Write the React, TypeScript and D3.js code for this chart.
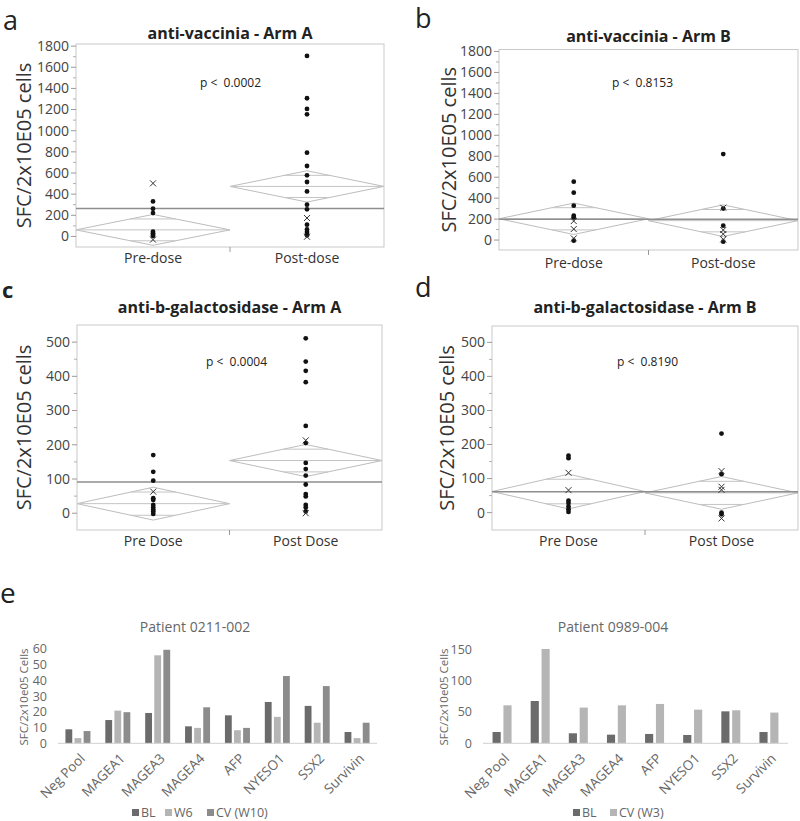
import React from "react";
import * as d3 from "d3";

const FONT = "'Open Sans', 'Segoe UI', sans-serif";

// ---------- Scatter panels (a-d) ----------
const doseGroupsAB = ["Pre-dose", "Post-dose"];
const doseGroupsCD = ["Pre Dose", "Post Dose"];

const aPreDots = [331, 262, 221, 45, 30, 15, 5];
const aPreCross = [502, -30];
const aPostDots = [1707, 1307, 1206, 1155, 792, 666, 578, 515, 426, 300, 256, 111, 66, 41, 22, 10];
const aPostCross = [174, -3];
const aMeans = [62, 473];
const aHalf = [146, 148];
const aGrand = 265;

const bPreDots = [557, 452, 328, 232, 217, -6];
const bPreCross = [181, 105, 16];
const bPostDots = [821, 300, 137, -16];
const bPostCross = [309, 96, 57, 6];
const bMeans = [203, 185];
const bHalf = [150, 151];
const bGrand = 198;

const cPreDots = [170, 121, 95, 44, 39, 24, 17, 10, 5, -2];
const cPreCross = [63];
const cPostDots = [511, 443, 416, 383, 255, 205, 147, 129, 110, 84, 56, 49, 24, 17, 5];
const cPostCross = [213, 0];
const cMeans = [28, 154];
const cHalf = [48, 47];
const cGrand = 91;

const dPreDots = [167, 160, 35, 28, 18, 10, 2];
const dPreCross = [117, 66];
const dPostDots = [232, 113, 0, -5];
const dPostCross = [122, 76, 67, -17];
const dMeans = [62, 58];
const dHalf = [51, 48];
const dGrand = 61;

const ticksVaccinia = [0, 200, 400, 600, 800, 1000, 1200, 1400, 1600, 1800];
const minorVaccinia = [100, 300, 500, 700, 900, 1100, 1300, 1500, 1700];
const ticksGal = [0, 100, 200, 300, 400, 500];
const minorGal = [50, 150, 250, 350, 450];

// ---------- Bar panels (e) ----------
const antigens = ["Neg Pool", "MAGEA1", "MAGEA3", "MAGEA4", "AFP", "NYESO1", "SSX2", "Survivin"];
const p1Series = ["BL", "W6", "CV (W10)"];
const p1BL = [8.9, 14.8, 19.3, 10.8, 17.8, 26.3, 23.8, 7.2];
const p1W6 = [3.3, 20.8, 56, 9.8, 8.3, 16.8, 13.1, 3.3];
const p1CV = [7.8, 19.8, 59.5, 22.9, 9.8, 42.8, 36.4, 13.1];
const p1Ticks = [0, 10, 20, 30, 40, 50, 60];
const p2Series = ["BL", "CV (W3)"];
const p2BL = [18, 67.5, 16, 13.8, 14.9, 13.3, 51, 18];
const p2CV = [60.6, 150.5, 57, 60.6, 62.8, 53.7, 52.7, 49];
const p2Ticks = [0, 50, 100, 150];

type ScatterProps = {
  groups: string[];
  left: number;
  right: number;
  top: number;
  bottom: number;
  domain: [number, number];
  ticks: number[];
  minor: number[];
  dots: number[][];
  crosses: number[][];
  means: number[];
  half: number[];
  grand: number;
  title: string;
  titleY: number;
  pText: string;
  pX: number;
  pY: number;
  yLabelX: number;
  xLabelY: number;
  letter: string;
  letterX: number;
  letterY: number;
  letterBold?: boolean;
  letterSize?: number;
};

function ScatterPanel(p: ScatterProps) {
  const x = d3.scaleBand<string>().domain(p.groups).range([p.left, p.right]);
  const y = d3.scaleLinear().domain(p.domain).range([p.bottom, p.top]);
  const bw = x.bandwidth();
  const midY = (p.top + p.bottom) / 2;
  return (
    <g>
      <text x={p.letterX} y={p.letterY} fontSize={p.letterSize ?? 27} fontWeight={p.letterBold ? 700 : 400} fill="#222" fontFamily={FONT}>
        {p.letter}
      </text>
      <text x={(p.left + p.right) / 2} y={p.titleY} textAnchor="middle" fontSize={16} fontWeight={700} fill="#222" fontFamily={FONT}>
        {p.title}
      </text>
      <rect x={p.left} y={p.top} width={p.right - p.left} height={p.bottom - p.top} fill="none" stroke="#c9c9c9" strokeWidth={1} />
      {p.ticks.map((t) => (
        <g key={"t" + t}>
          <line x1={p.left - 5} x2={p.left} y1={y(t)} y2={y(t)} stroke="#9a9a9a" />
          <text x={p.left - 7} y={y(t)} dy="0.35em" textAnchor="end" fontSize={14} fill="#444" fontFamily={FONT}>
            {t}
          </text>
        </g>
      ))}
      {p.minor.map((t) => (
        <line key={"m" + t} x1={p.left - 3} x2={p.left} y1={y(t)} y2={y(t)} stroke="#b0b0b0" />
      ))}
      <line x1={p.left + bw} x2={p.left + bw} y1={p.bottom} y2={p.bottom + 5} stroke="#9a9a9a" />
      {p.groups.map((g) => (
        <text key={g} x={(x(g) as number) + bw / 2} y={p.xLabelY} textAnchor="middle" fontSize={14} fill="#333" fontFamily={FONT}>
          {g}
        </text>
      ))}
      <text
        transform={`translate(${p.yLabelX},${midY}) rotate(-90)`}
        textAnchor="middle"
        fontSize={20}
        fill="#333"
        fontFamily={FONT}
      >
        SFC/2x10E05 cells
      </text>
      {/* means diamonds */}
      {p.groups.map((g, i) => {
        const x0 = x(g) as number;
        const x1 = x0 + bw;
        const xc = x0 + bw / 2;
        const ym = y(p.means[i]);
        const yt = y(p.means[i] + p.half[i]);
        const yb = y(p.means[i] - p.half[i]);
        const h = p.half[i] / Math.SQRT2;
        const ow = (1 - 1 / Math.SQRT2) * (bw / 2);
        return (
          <g key={"d" + g}>
            <polygon points={`${x0},${ym} ${xc},${yt} ${x1},${ym} ${xc},${yb}`} fill="none" stroke="#bdbdbd" strokeWidth={1} />
            <line x1={x0} x2={x1} y1={ym} y2={ym} stroke="#c4c4c4" strokeWidth={1} />
            <line x1={xc - ow} x2={xc + ow} y1={y(p.means[i] + h)} y2={y(p.means[i] + h)} stroke="#c4c4c4" />
            <line x1={xc - ow} x2={xc + ow} y1={y(p.means[i] - h)} y2={y(p.means[i] - h)} stroke="#c4c4c4" />
          </g>
        );
      })}
      <line x1={p.left} x2={p.right} y1={y(p.grand)} y2={y(p.grand)} stroke="#8e8e8e" strokeWidth={1.5} />
      {/* points */}
      {p.groups.map((g, i) => {
        const xc = (x(g) as number) + bw / 2;
        return (
          <g key={"p" + g}>
            {p.dots[i].map((v, j) => (
              <circle key={"c" + j} cx={xc} cy={y(v)} r={2.4} fill="#111" />
            ))}
            {p.crosses[i].map((v, j) => (
              <path
                key={"x" + j}
                d={`M${xc - 3},${y(v) - 3}L${xc + 3},${y(v) + 3}M${xc - 3},${y(v) + 3}L${xc + 3},${y(v) - 3}`}
                stroke="#333"
                strokeWidth={1}
              />
            ))}
          </g>
        );
      })}
      <text x={p.pX} y={p.pY} fontSize={12} fill="#222" fontFamily={FONT} style={{ whiteSpace: "pre" }}>
        {p.pText}
      </text>
    </g>
  );
}

type BarProps = {
  left: number;
  right: number;
  base: number;
  topY: number;
  max: number;
  ticks: number[];
  series: string[];
  values: number[][];
  colors: string[];
  groupWidth: number;
  title: string;
  titleX: number;
  yLabelX: number;
  legendX: number;
  legendGaps: number[];
};

function BarPanel(p: BarProps) {
  const x = d3.scaleBand<string>().domain(antigens).range([p.left, p.right]);
  const y = d3.scaleLinear().domain([0, p.max]).range([p.base, p.topY]);
  const bw = x.bandwidth();
  return (
    <g fontFamily={FONT}>
      <text x={p.titleX} y={632} textAnchor="middle" fontSize={14} fill="#666">
        {p.title}
      </text>
      {p.ticks.map((t) => (
        <text key={t} x={p.left - 11} y={y(t)} dy="0.35em" textAnchor="end" fontSize={12.5} fill="#666">
          {t}
        </text>
      ))}
      <text transform={`translate(${p.yLabelX},${697}) rotate(-90)`} textAnchor="middle" fontSize={11.5} fill="#666">
        SFC/2x10e05 Cells
      </text>
      {antigens.map((a, i) => {
        const c = (x(a) as number) + bw / 2;
        const sx = d3
          .scaleBand<string>()
          .domain(p.series)
          .range([c - p.groupWidth / 2, c + p.groupWidth / 2])
          .paddingInner(0.25);
        return (
          <g key={a}>
            {p.series.map((s, k) => (
              <rect
                key={s}
                x={sx(s) as number}
                width={sx.bandwidth()}
                y={y(p.values[k][i])}
                height={p.base - y(p.values[k][i])}
                fill={p.colors[k]}
              />
            ))}
            <text
              transform={`translate(${c + 8},${p.base + 16}) rotate(-45)`}
              textAnchor="end"
              fontSize={13.5}
              fill="#666"
            >
              {a}
            </text>
          </g>
        );
      })}
      <line x1={p.left} x2={p.right} y1={p.base} y2={p.base} stroke="#d0d0d0" strokeWidth={1} />
      {p.series.map((s, k) => {
        const lx = p.legendX + p.legendGaps[k];
        return (
          <g key={"l" + s}>
            <rect x={lx} y={809} width={7} height={7} fill={p.colors[k]} />
            <text x={lx + 9} y={813} dy="0.35em" fontSize={12.5} fill="#666">
              {s}
            </text>
          </g>
        );
      })}
    </g>
  );
}

export default function App() {
  return (
    <svg width={800} height={821} style={{ position: "absolute", left: 0, top: 0, background: "#fff" }}>
      <rect width={800} height={821} fill="#fff" />
      <ScatterPanel
        groups={doseGroupsAB}
        left={76}
        right={384}
        top={44}
        bottom={247}
        domain={[-100, 1820]}
        ticks={ticksVaccinia}
        minor={minorVaccinia}
        dots={[aPreDots, aPostDots]}
        crosses={[aPreCross, aPostCross]}
        means={aMeans}
        half={aHalf}
        grand={aGrand}
        title="anti-vaccinia - Arm A"
        titleY={39}
        pText="p <  0.0002"
        pX={200}
        pY={87}
        yLabelX={31}
        xLabelY={263}
        letter="a"
        letterX={3}
        letterY={30}
      />
      <ScatterPanel
        groups={doseGroupsAB}
        left={499}
        right={798}
        top={49.5}
        bottom={250}
        domain={[-95, 1819]}
        ticks={ticksVaccinia}
        minor={minorVaccinia}
        dots={[bPreDots, bPostDots]}
        crosses={[bPreCross, bPostCross]}
        means={bMeans}
        half={bHalf}
        grand={bGrand}
        title="anti-vaccinia - Arm B"
        titleY={42}
        pText="p <  0.8153"
        pX={612}
        pY={87}
        yLabelX={456}
        xLabelY={268}
        letter="b"
        letterX={415}
        letterY={28}
      />
      <ScatterPanel
        groups={doseGroupsCD}
        left={77}
        right={382}
        top={325}
        bottom={530}
        domain={[-49, 550]}
        ticks={ticksGal}
        minor={minorGal}
        dots={[cPreDots, cPostDots]}
        crosses={[cPreCross, cPostCross]}
        means={cMeans}
        half={cHalf}
        grand={cGrand}
        title="anti-b-galactosidase - Arm A"
        titleY={313}
        pText="p <  0.0004"
        pX={206}
        pY={366}
        yLabelX={31}
        xLabelY={546}
        letter="c"
        letterX={2}
        letterY={298}
        letterBold={true}
        letterSize={22}
      />
      <ScatterPanel
        groups={doseGroupsCD}
        left={492}
        right={798}
        top={326}
        bottom={530}
        domain={[-51, 548]}
        ticks={ticksGal}
        minor={minorGal}
        dots={[dPreDots, dPostDots]}
        crosses={[dPreCross, dPostCross]}
        means={dMeans}
        half={dHalf}
        grand={dGrand}
        title="anti-b-galactosidase - Arm B"
        titleY={313}
        pText="p <  0.8190"
        pX={617}
        pY={366}
        yLabelX={454}
        xLabelY={546}
        letter="d"
        letterX={415}
        letterY={297}
      />
      <text x={0} y={603} fontSize={28} fill="#222" fontFamily={FONT}>
        e
      </text>
      <BarPanel
        left={58}
        right={377}
        base={743.3}
        topY={649}
        max={60}
        ticks={p1Ticks}
        series={p1Series}
        values={[p1BL, p1W6, p1CV]}
        colors={["#6b6b6b", "#b5b5b5", "#8c8c8c"]}
        groupWidth={25}
        title="Patient 0211-002"
        titleX={195}
        yLabelX={28}
        legendX={132}
        legendGaps={[0, 33, 75]}
      />
      <BarPanel
        left={483}
        right={788}
        base={743.3}
        topY={649.3}
        max={150}
        ticks={p2Ticks}
        series={p2Series}
        values={[p2BL, p2CV]}
        colors={["#6b6b6b", "#b5b5b5"]}
        groupWidth={19}
        title="Patient 0989-004"
        titleX={613}
        yLabelX={448}
        legendX={573}
        legendGaps={[0, 37]}
      />
    </svg>
  );
}
